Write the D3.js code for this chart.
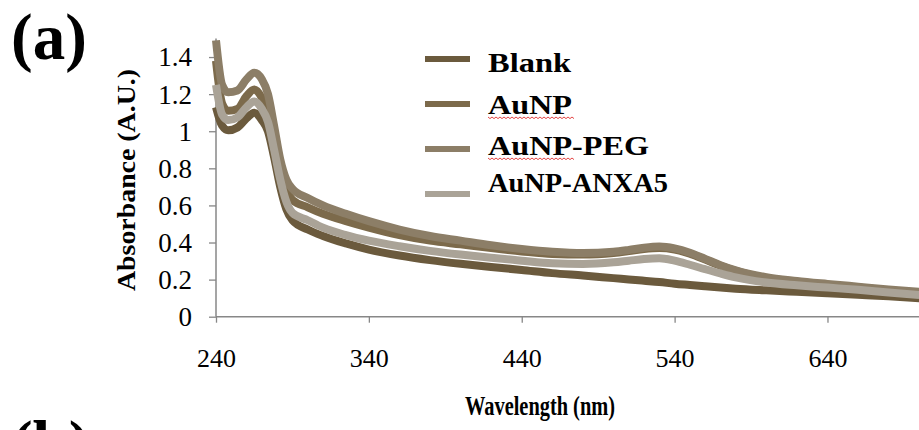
<!DOCTYPE html>
<html>
<head>
<meta charset="utf-8">
<script src="https://cdn.jsdelivr.net/npm/d3@7"></script>
<style>
  html, body { margin: 0; padding: 0; background: #fff; }
  svg { display: block; }
  text { font-family: "Liberation Serif", "Times New Roman", serif; fill: #000; }
</style>
</head>
<body>
<svg id="chart" width="919" height="430"></svg>
<script>
// UV-Vis absorbance spectra
const wavelengths = [240, 244, 248, 254, 260, 265, 270, 274, 278, 282, 286, 290, 300, 310, 325, 340, 360, 380, 400, 420, 440, 460, 480, 500, 510, 520, 530, 540, 550, 560, 570, 580, 600, 620, 640, 660, 680, 700];

const blank = [1.13, 1.03, 1.005, 1.02, 1.07, 1.10, 1.06, 1.00, 0.86, 0.70, 0.58, 0.52, 0.47, 0.435, 0.395, 0.362, 0.33, 0.305, 0.285, 0.268, 0.252, 0.235, 0.222, 0.208, 0.201, 0.194, 0.187, 0.178, 0.171, 0.164, 0.157, 0.151, 0.142, 0.134, 0.126, 0.118, 0.110, 0.100];
const aunp = [1.38, 1.15, 1.11, 1.12, 1.19, 1.225, 1.18, 1.10, 0.95, 0.79, 0.68, 0.63, 0.59, 0.555, 0.515, 0.48, 0.44, 0.41, 0.39, 0.37, 0.352, 0.338, 0.335, 0.344, 0.354, 0.365, 0.370, 0.362, 0.340, 0.308, 0.275, 0.247, 0.208, 0.188, 0.172, 0.157, 0.142, 0.129];
const aunpPeg = [1.49, 1.25, 1.21, 1.22, 1.28, 1.315, 1.28, 1.20, 1.03, 0.85, 0.74, 0.69, 0.64, 0.60, 0.555, 0.515, 0.47, 0.435, 0.41, 0.385, 0.365, 0.35, 0.343, 0.35, 0.36, 0.372, 0.378, 0.368, 0.345, 0.312, 0.278, 0.25, 0.213, 0.193, 0.177, 0.162, 0.147, 0.134];
const aunpAnxa5 = [1.25, 1.09, 1.06, 1.075, 1.13, 1.16, 1.12, 1.05, 0.90, 0.74, 0.62, 0.56, 0.52, 0.48, 0.44, 0.41, 0.38, 0.355, 0.335, 0.318, 0.302, 0.288, 0.284, 0.293, 0.302, 0.311, 0.315, 0.302, 0.28, 0.256, 0.233, 0.212, 0.184, 0.169, 0.157, 0.145, 0.130, 0.117];

const seriesNames = ["Blank", "AuNP", "AuNP-PEG", "AuNP-ANXA5"];
const seriesValues = [blank, aunp, aunpPeg, aunpAnxa5];
const seriesColors = ["#6b5a3d", "#7c6a4b", "#8c7e67", "#aaa397"];

const xTicks = [240, 340, 440, 540, 640];
const yTicks = [0, 0.2, 0.4, 0.6, 0.8, 1, 1.2, 1.4];

const svg = d3.select("#chart");

const x = d3.scaleLinear().domain([240, 700]).range([216, 919.2]);
const y = d3.scaleLinear().domain([0, 1.5]).range([316.7, 38.5]);

// axes
const axisColor = "#878787";
const xAxis = svg.append("g").attr("transform", "translate(0,316.7)")
  .call(d3.axisBottom(x).tickValues(xTicks).tickSize(6).tickFormat(d3.format("d")));
xAxis.select(".domain").attr("stroke", axisColor).attr("stroke-width", 1.5).attr("d", `M${x(240)},0H${x(700)}`);
xAxis.selectAll(".tick line").attr("stroke", axisColor).attr("stroke-width", 1.3);
xAxis.selectAll(".tick text")
  .attr("y", 0).attr("dy", "50.5px")
  .style("font-family", "'Liberation Serif', serif").style("font-size", "26px").attr("fill", "#000");

const yAxis = svg.append("g").attr("transform", "translate(216,0)")
  .call(d3.axisLeft(y).tickValues(yTicks).tickSize(7).tickFormat(d => d3.format("")(+d.toFixed(1))));
yAxis.select(".domain").attr("stroke", axisColor).attr("stroke-width", 1.5).attr("d", `M0,${y(0)}V${y(1.5)}`);
yAxis.selectAll(".tick line").attr("stroke", axisColor).attr("stroke-width", 1.3);
yAxis.selectAll(".tick text")
  .attr("x", -24).attr("dy", "0.33em")
  .style("font-family", "'Liberation Serif', serif").style("font-size", "27px").attr("fill", "#000");

// spectra
const line = d3.line().x((d, i) => x(wavelengths[i])).y(d => y(d)).curve(d3.curveMonotoneX);
svg.append("g").selectAll("path").data(seriesValues).join("path")
  .attr("d", line)
  .attr("fill", "none")
  .attr("stroke", (d, i) => seriesColors[i])
  .attr("stroke-width", 8)
  .attr("stroke-linejoin", "round");

// legend
const legendLineY = [59, 104, 149, 194];
const legendTextY = [72, 114, 155, 192];
const legendTextWidth = [83, 84, 161, 180];
const legend = svg.append("g");
seriesNames.forEach((name, i) => {
  legend.append("line")
    .attr("x1", 425).attr("x2", 470)
    .attr("y1", legendLineY[i]).attr("y2", legendLineY[i])
    .attr("stroke", seriesColors[i]).attr("stroke-width", 6);
  legend.append("text")
    .attr("x", 488).attr("y", legendTextY[i])
    .style("font-size", "27px").style("font-weight", "bold")
    .attr("textLength", legendTextWidth[i]).attr("lengthAdjust", "spacingAndGlyphs")
    .text(name);
});

// spell-check squiggles under "AuNP"
function squiggle(x0, x1, yy) {
  let p = `M${x0},${yy}`;
  for (let xx = x0, k = 0; xx < x1; xx += 2, k++) p += `L${xx + 2},${yy + (k % 2 ? 0 : 1.6)}`;
  return p;
}
[117, 158].forEach(yy => {
  legend.append("path").attr("d", squiggle(488, 573, yy))
    .attr("fill", "none").attr("stroke", "#e03030").attr("stroke-width", 0.9);
});

// axis titles
svg.append("text")
  .attr("x", 540).attr("y", 415).attr("text-anchor", "middle")
  .style("font-size", "27px").style("font-weight", "bold")
  .attr("textLength", 150).attr("lengthAdjust", "spacingAndGlyphs")
  .text("Wavelength (nm)");

svg.append("text")
  .attr("transform", "translate(135,180) rotate(-90)")
  .attr("text-anchor", "middle")
  .style("font-size", "26px").style("font-weight", "bold")
  .attr("textLength", 222).attr("lengthAdjust", "spacingAndGlyphs")
  .text("Absorbance (A.U.)");

// panel labels
svg.append("text").attr("x", 11).attr("y", 59)
  .style("font-size", "65px").style("font-weight", "bold").text("(a)");
svg.append("text").attr("x", 11).attr("y", 466)
  .style("font-size", "65px").style("font-weight", "bold").text("(b)");
</script>
</body>
</html>
